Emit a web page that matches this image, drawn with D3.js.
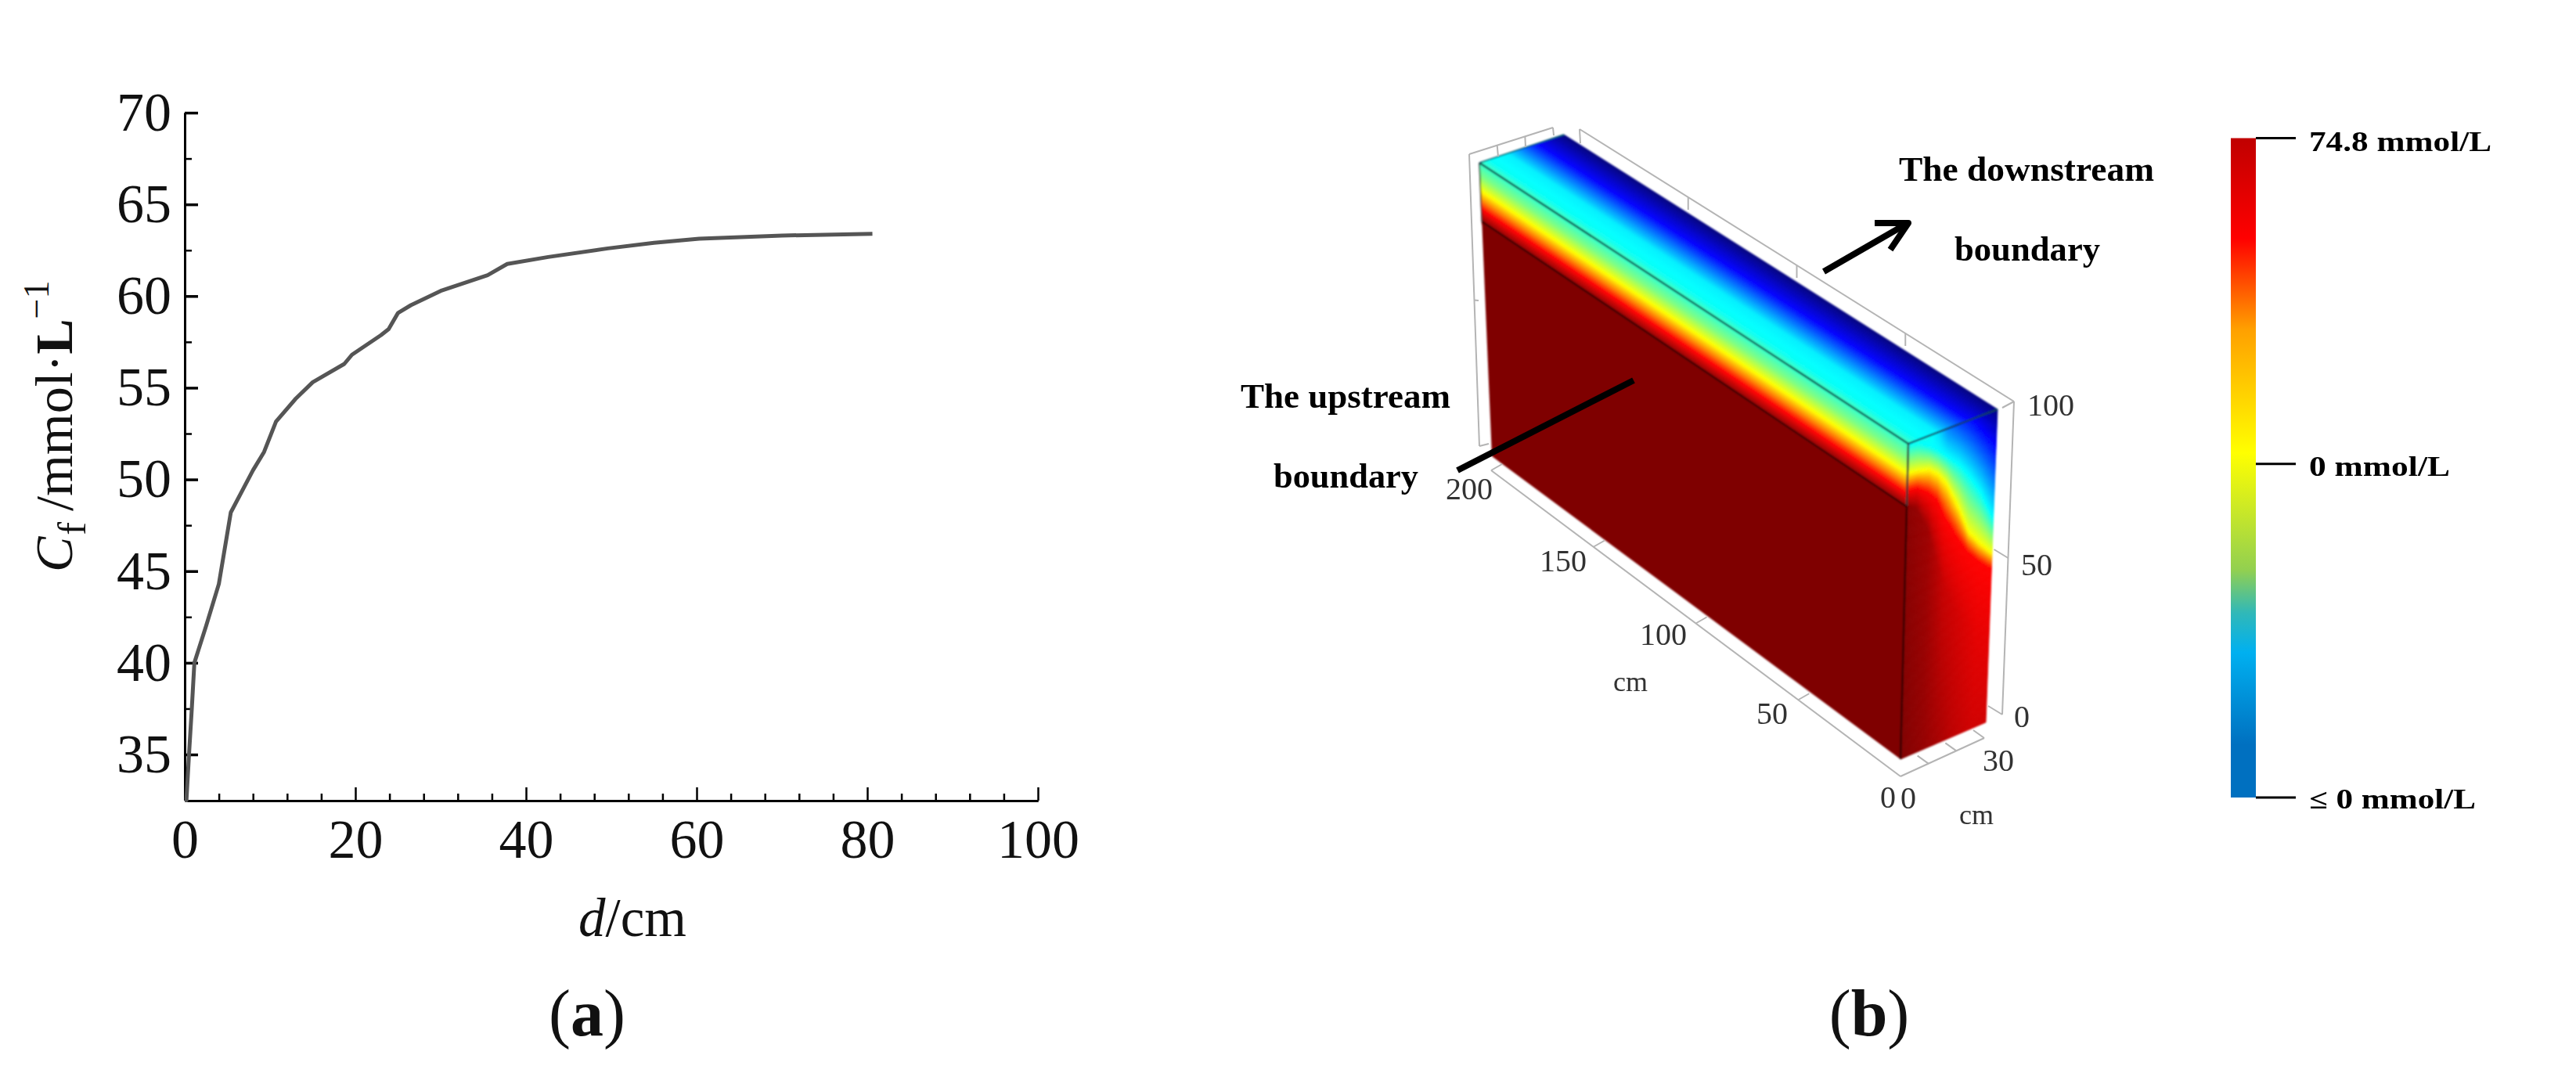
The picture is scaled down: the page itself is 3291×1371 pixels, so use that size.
<!DOCTYPE html>
<html><head><meta charset="utf-8">
<script src="https://cdn.jsdelivr.net/npm/d3@7/dist/d3.min.js"></script>
<style>
html,body{margin:0;padding:0;background:#fff}
svg{display:block}
text{font-family:"Liberation Serif",serif}
</style></head><body>
<svg id="c" width="3291" height="1371"></svg>
<script>
// ---------- panel (a) data ----------
const distance = [0,0.2,0.5,0.83,1.13,2.5,4,5.4,8,9.3,10.7,13,15,18.7,19.6,23,23.9,25,26.5,30,35.5,37.8,42.6,49.6,55,60.3,70,80.6];
const concentration = [32.5,32.5,35,37.5,40,42,44.3,48.2,50.5,51.5,53.16,54.4,55.3,56.3,56.8,57.87,58.2,59.08,59.5,60.28,61.14,61.75,62.13,62.6,62.9,63.13,63.3,63.4];
const xMajor = [0,20,40,60,80,100];
const xMinor = [4,8,12,16,24,28,32,36,44,48,52,56,64,68,72,76,84,88,92,96];
const yMajor = [35,40,45,50,55,60,65,70];
const yMinor = [37.5,42.5,47.5,52.5,57.5,62.5,67.5];

// ---------- panel (b) data ----------
const jetStops = [0,0.125,0.375,0.625,0.875,1];
const jetColors = ["#00007f","#0000ff","#00ffff","#ffff00","#ff0000","#7f0000"];
// top face: depth fraction -> field
const topDepth = [0,0.1,0.33,0.5,0.69,1];
const topField = [0.44,0.385,0.36,0.25,0.125,0];
// long front face: fraction from top -> field
const frontFrac = [0,0.047,0.096,0.13,0.16,0.205,1];
const frontField = [0.42,0.5,0.625,0.75,0.875,1,1];
// end face: read per depth column
const sideDepth  = [0,0.12,0.25,0.35,0.45,0.6,0.72,0.85,1];
const sideTop    = [0.42,0.40,0.385,0.34,0.25,0.18,0.125,0.06,0];
const sideCyan   = [0.002,0.01,0.035,0.06,0.09,0.135,0.185,0.25,0.35];
const sideYellow = [0.095,0.10,0.11,0.135,0.175,0.27,0.36,0.41,0.46];
const sideRed    = [0.15,0.155,0.185,0.22,0.29,0.37,0.425,0.47,0.51];
const sideDeepAt = [0.2,0.22,0.3,0.4,0.5,0.6,0.65,0.7,0.75];
const sideDeep   = [0.99,0.98,0.97,0.95,0.93,0.92,0.91,0.90,0.90];
const sideBottom = [1,0.99,0.98,0.97,0.96,0.94,0.93,0.92,0.92];
const lengthTicks = [0,50,100,150,200];
const depthTicks = [0,10,20,30];
const heightTicks = [0,50,100];
// legend
const legendStops = [0,0.152,0.29,0.477,0.655,0.72,0.78,0.92,1];
const legendColors = ["#c00000","#ff0000","#ffa000","#ffff00","#92d050","#30b8b8","#00b0f0","#0070c0","#0070c0"];
const legendLabels = ["74.8 mmol/L","0 mmol/L","\u2264 0 mmol/L"];
const legendTicks = [0,0.494,1];

const svg = d3.select("#c");
const defs = svg.append("defs");
defs.append("filter").attr("id","soft").attr("x","-5%").attr("y","-5%").attr("width","110%").attr("height","110%")
  .append("feGaussianBlur").attr("stdDeviation",1.3);
defs.append("filter").attr("id","softT").attr("x","-5%").attr("y","-20%").attr("width","110%").attr("height","140%")
  .append("feGaussianBlur").attr("stdDeviation",0.7);

// ========== panel (a) ==========
const x = d3.scaleLinear().domain([0,100]).range([236,1326]);
const y = d3.scaleLinear().domain([32.5,70]).range([1022.6,144]);
const a = svg.append("g");
const styleAxis = (g,w)=>{g.selectAll("path").attr("stroke","#000").attr("stroke-width",3);
  g.selectAll("line").attr("stroke","#000").attr("stroke-width",w);
  g.selectAll("text").attr("fill","#111").style("font-family",'"Liberation Serif",serif').style("font-size","70px");};
a.append("g").attr("transform","translate(0,1023)")
  .call(d3.axisBottom(x).tickValues(xMinor).tickSize(-9).tickSizeOuter(0).tickFormat(""))
  .call(g=>styleAxis(g,2.5));
a.append("g").attr("transform","translate(0,1023)")
  .call(d3.axisBottom(x).tickValues(xMajor).tickSize(-17).tickSizeOuter(0).tickPadding(23).tickFormat(d3.format("d")))
  .call(g=>styleAxis(g,2.5));
a.append("g").attr("transform","translate(236,0)")
  .call(d3.axisLeft(y).tickValues(yMinor).tickSize(-9).tickSizeOuter(0).tickFormat(""))
  .call(g=>styleAxis(g,2.5));
a.append("g").attr("transform","translate(236,0)")
  .call(d3.axisLeft(y).tickValues(yMajor).tickSize(-17).tickSizeOuter(0).tickPadding(17).tickFormat(d3.format("d")))
  .call(g=>styleAxis(g,3.5));
a.append("path").datum(distance.map((d,i)=>[d,concentration[i]]))
  .attr("fill","none").attr("stroke","#555").attr("stroke-width",5).attr("stroke-linejoin","round")
  .attr("d",d3.line().x(d=>x(d[0])).y(d=>y(d[1])));

const yl = a.append("text").attr("transform","translate(92,731) rotate(-90)").attr("font-size",68).attr("fill","#111");
yl.append("tspan").attr("font-style","italic").text("C");
yl.append("tspan").attr("font-size",50).attr("dy",17).attr("dx",2).text("f");
yl.append("tspan").attr("dy",-17).attr("dx",14).text("/mmol\u00B7");
yl.append("tspan").attr("font-weight","bold").text("L");
yl.append("tspan").attr("font-size",46).attr("dy",-30).text("\u22121");

const xl = a.append("text").attr("x",739).attr("y",1196).attr("font-size",69).attr("fill","#111");
xl.append("tspan").attr("font-style","italic").text("d");
xl.append("tspan").text("/cm");

const panelLabel=(cx,l)=>{const t=svg.append("text").attr("x",cx).attr("y",1323).attr("text-anchor","middle").attr("font-size",84).attr("fill","#111");
  t.append("tspan").text("(");t.append("tspan").attr("font-weight","bold").text(l);t.append("tspan").text(")");};
panelLabel(750,"a"); panelLabel(2388,"b");

// ========== panel (b) ==========
const jet = d3.scaleLinear().domain(jetStops).range(jetColors).clamp(true);
const A=[1890,208],B=[1998,172],C=[2552,523],D=[2438,567],E=[2428,970],F=[2537,923],G=[1906,583];
const mix=(p,q,t)=>[p[0]+(q[0]-p[0])*t,p[1]+(q[1]-p[1])*t];
const bil=(p00,p10,p01,p11,u,v)=>mix(mix(p00,p10,u),mix(p01,p11,u),v);
const poly=p=>p.map(q=>q.join(",")).join(" ");
const box = svg.append("g").attr("filter","url(#soft)");

// grid frame
const frame = svg.append("g").attr("fill","none").attr("stroke","#b4b4b4").attr("stroke-width",2).attr("filter","url(#softT)");
const L=(p,q,c)=>frame.append("line").attr("x1",p[0]).attr("y1",p[1]).attr("x2",q[0]).attr("y2",q[1]);
const lenAxis = t=>mix([2428,992],[1905,601],t/200);
const depAxis = t=>mix([2428,992],[2535,943],t/30);
const hgtAxis = t=>mix([2558,913],[2573,513],t/100);
const backAxis= t=>mix([2573,513],[2018,165],t/200);
L(lenAxis(0),lenAxis(200)); L(depAxis(0),depAxis(30)); L(hgtAxis(0),hgtAxis(100)); L(backAxis(0),backAxis(200));
frame.selectAll(".lt").data(lengthTicks.slice(1)).join("line").attr("x1",d=>lenAxis(d)[0]).attr("y1",d=>lenAxis(d)[1])
  .attr("x2",d=>lenAxis(d)[0]+14).attr("y2",d=>lenAxis(d)[1]-8);
frame.selectAll(".dt").data(depthTicks.slice(1)).join("line").attr("x1",d=>depAxis(d)[0]).attr("y1",d=>depAxis(d)[1])
  .attr("x2",d=>depAxis(d)[0]-14).attr("y2",d=>depAxis(d)[1]-10);
frame.selectAll(".ht").data(heightTicks.slice(0,2)).join("line").attr("x1",d=>hgtAxis(d)[0]).attr("y1",d=>hgtAxis(d)[1])
  .attr("x2",d=>hgtAxis(d)[0]-18).attr("y2",d=>hgtAxis(d)[1]-11);
frame.selectAll(".bt").data(lengthTicks.slice(1,4)).join("line").attr("x1",d=>backAxis(d)[0]).attr("y1",d=>backAxis(d)[1])
  .attr("x2",d=>backAxis(d)[0]).attr("y2",d=>backAxis(d)[1]+16);
L([2573,513],[2558,521]);
L([2018,165],[2019,183]);
// back-left frame
const leftTop=[1877,197],leftTopEnd=[1984,163],leftBot=[1890,570];
L(leftTop,leftBot); L(leftBot,[1902,567]); L(leftTop,leftTopEnd); L(leftTopEnd,[1985,173]);
L(mix(leftTop,leftTopEnd,1/3),[1914,200]); L(mix(leftTop,leftTopEnd,2/3),[1949,188]);
L(mix(leftTop,leftBot,0.5),[1889,384]);

// top face
const tz = d3.scaleLinear().domain(topDepth).range(topField);
d3.range(70).forEach(i=>{const v0=i/70,v1=(i+1)/70;
  box.append("polygon").attr("points",poly([mix(A,B,v0),mix(A,B,v1),mix(D,C,v1),mix(D,C,v0)]))
    .attr("fill",jet(tz((v0+v1)/2))).attr("stroke",jet(tz((v0+v1)/2))).attr("stroke-width",0.8);});
// long face
const fz = d3.scaleLinear().domain(frontFrac).range(frontField);
const frontBands = d3.range(0,0.21,0.003).concat([0.21]);
frontBands.slice(0,-1).forEach((v0,i)=>{const v1=frontBands[i+1];
  box.append("polygon").attr("points",poly([mix(A,G,v0),mix(D,E,v0),mix(D,E,v1),mix(A,G,v1)]))
    .attr("fill",jet(fz((v0+v1)/2))).attr("stroke",jet(fz((v0+v1)/2))).attr("stroke-width",0.8);});
box.append("polygon").attr("points",poly([mix(A,G,0.205),mix(D,E,0.205),E,G])).attr("fill","#7f0000");
// end face
const col = arr=>d3.scaleLinear().domain(sideDepth).range(arr);
const cTop=col(sideTop),cCy=col(sideCyan),cYe=col(sideYellow),cRe=col(sideRed),cDa=col(sideDeepAt),cDe=col(sideDeep),cBo=col(sideBottom);
const NU=56,NV=110;
d3.range(NU).forEach(i=>{const u0=i/NU,u1=(i+1)/NU,u=(u0+u1)/2;
  const prof=d3.scaleLinear().domain([0,cCy(u),cYe(u),cRe(u),cDa(u),1])
    .range([Math.max(cTop(u),0),0.375,0.625,0.875,cDe(u),cBo(u)]);
  d3.range(NV).forEach(j=>{const v0=j/NV,v1=(j+1)/NV,c=jet(prof((v0+v1)/2));
    box.append("polygon").attr("points",poly([bil(D,C,E,F,u0,v0),bil(D,C,E,F,u1,v0),bil(D,C,E,F,u1,v1),bil(D,C,E,F,u0,v1)]))
      .attr("fill",c).attr("stroke",c).attr("stroke-width",0.8);});
});
// edges
const edge=(p,q,c,w)=>box.append("line").attr("x1",p[0]).attr("y1",p[1]).attr("x2",q[0]).attr("y2",q[1]).attr("stroke",c).attr("stroke-width",w);
edge(A,D,"#0a4a4a",2.4); edge(D,C,"#0a3a5a",2.4); edge(A,B,"#0a5a6a",1.5); edge(D,mix(D,E,0.2),"#333",2.4);
edge(mix(D,E,0.2),E,"#300000",2.4); edge(mix(A,G,0.2),mix(D,E,0.2),"#3a0000",2.4); edge(A,mix(A,G,0.2),"#333",1.5);

// axis labels of the block
const lab3=svg.append("g").attr("fill","#333").attr("font-size",40).attr("filter","url(#softT)");
const t3=(s,x0,y0,size,w)=>{const t=lab3.append("text").attr("x",x0).attr("y",y0).text(s);if(size)t.attr("font-size",size);return t;};
t3("200",1847,638); t3("150",1967,730); t3("100",2095,824); t3("50",2244,925);
t3("0",2402,1032); t3("0",2428,1033); t3("30",2533,985); t3("0",2573,929); t3("50",2582,735); t3("100",2590,531);
t3("cm",2061,883,36); t3("cm",2503,1053,36);

// annotation lines
const ann=svg.append("g").attr("stroke","#000").attr("fill","none").attr("stroke-width",8);
ann.append("line").attr("x1",1862).attr("y1",601).attr("x2",2087).attr("y2",486);
ann.append("line").attr("x1",2330).attr("y1",347).attr("x2",2434).attr("y2",287);
ann.append("polyline").attr("points","2395,285 2438,285 2415,319").attr("stroke-linejoin","round");

const txt=svg.append("g").attr("font-weight","bold").attr("fill","#000").attr("filter","url(#softT)");
const bt=(s,x0,yb,w,fs)=>txt.append("text").attr("x",x0).attr("y",yb).attr("font-size",fs).attr("textLength",w).attr("lengthAdjust","spacingAndGlyphs").text(s);
bt("The downstream",2426,231,326,44);
bt("boundary",2497,333,186,44);
bt("The upstream",1585,521,268,44);
bt("boundary",1627,623,185,44);

// colour bar
const legY=d3.scaleLinear().domain([0,1]).range([176.5,1019]);
const lg=defs.append("linearGradient").attr("id","lg").attr("x1",0).attr("x2",0).attr("y1",0).attr("y2",1);
legendStops.forEach((s,i)=>lg.append("stop").attr("offset",s).attr("stop-color",legendColors[i]));
svg.append("rect").attr("x",2850).attr("y",legY(0)).attr("width",32).attr("height",legY(1)-legY(0)).attr("fill","url(#lg)");
svg.selectAll(".lt2").data(legendTicks).join("line").attr("x1",2882).attr("x2",2933)
  .attr("y1",d=>legY(d)).attr("y2",d=>legY(d)).attr("stroke","#000").attr("stroke-width",3);
const lw=[233,180,213];
legendLabels.forEach((s,i)=>bt(s,2950,legY(legendTicks[i])+(i==1?15:i==2?14:16),lw[i],35));
</script>
</body></html>
